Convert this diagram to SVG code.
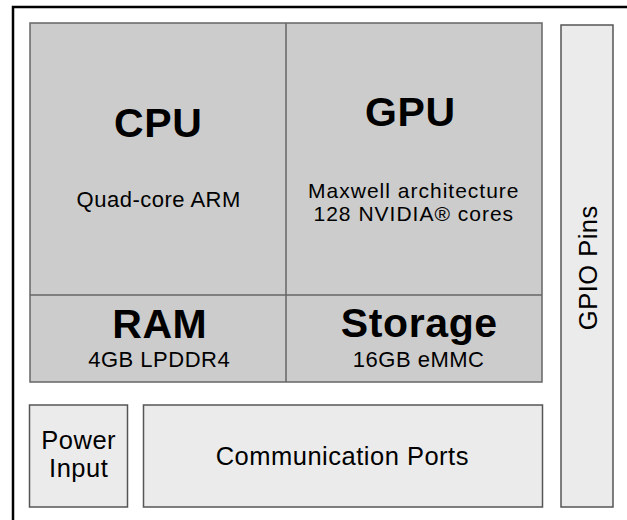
<svg xmlns="http://www.w3.org/2000/svg" width="627" height="520" viewBox="0 0 627 520">
<style>
.dark{fill:#cccccc;stroke:#666666;stroke-width:1.5}
.light{fill:#ebebeb;stroke:#555555;stroke-width:1.5}
.div{stroke:#666666;stroke-width:1.5;fill:none}
text{font-family:"Liberation Sans",Arial,sans-serif;fill:#000;text-anchor:middle}
.big{font-size:41px;font-weight:bold;letter-spacing:0.6px}
.sm{font-size:22px;letter-spacing:0.5px}
.sm2{font-size:21px;letter-spacing:1px}
.md{font-size:25.5px;letter-spacing:0.5px}
</style>
<rect x="13" y="7" width="630" height="530" fill="#ffffff" stroke="#000000" stroke-width="2.5"/>
<g id="board">
<rect class="dark" x="30" y="23" width="512" height="359"/>
<line class="div" x1="286" y1="23" x2="286" y2="382"/>
<line class="div" x1="30" y1="295" x2="542" y2="295"/>
</g>
<g id="cpu">
<text class="big" x="158.3" y="137">CPU</text>
<text class="sm" x="158.7" y="207">Quad-core ARM</text>
</g>
<g id="gpu">
<text class="big" x="410.3" y="126">GPU</text>
<text class="sm2" x="413.8" y="197.5">Maxwell architecture</text>
<text class="sm2" x="413.8" y="220.5">128 NVIDIA® cores</text>
</g>
<g id="ram">
<text class="big" x="159.8" y="338">RAM</text>
<text class="sm" x="159.2" y="367">4GB LPDDR4</text>
</g>
<g id="storage">
<text class="big" x="419.3" y="337">Storage</text>
<text class="sm" x="418.7" y="367">16GB eMMC</text>
</g>
<g id="power">
<rect class="light" x="29.5" y="405" width="98" height="102"/>
<text class="md" x="78.7" y="449">Power</text>
<text class="md" x="78.7" y="477">Input</text>
</g>
<g id="comm">
<rect class="light" x="143.5" y="405" width="399" height="102"/>
<text class="md" x="342.3" y="465">Communication Ports</text>
</g>
<g id="gpio">
<rect class="light" x="561" y="25" width="52" height="482"/>
<text class="md" transform="translate(597,267.7) rotate(-90)" x="0" y="0">GPIO Pins</text>
</g>
<g id="connectors"/>
</svg>
